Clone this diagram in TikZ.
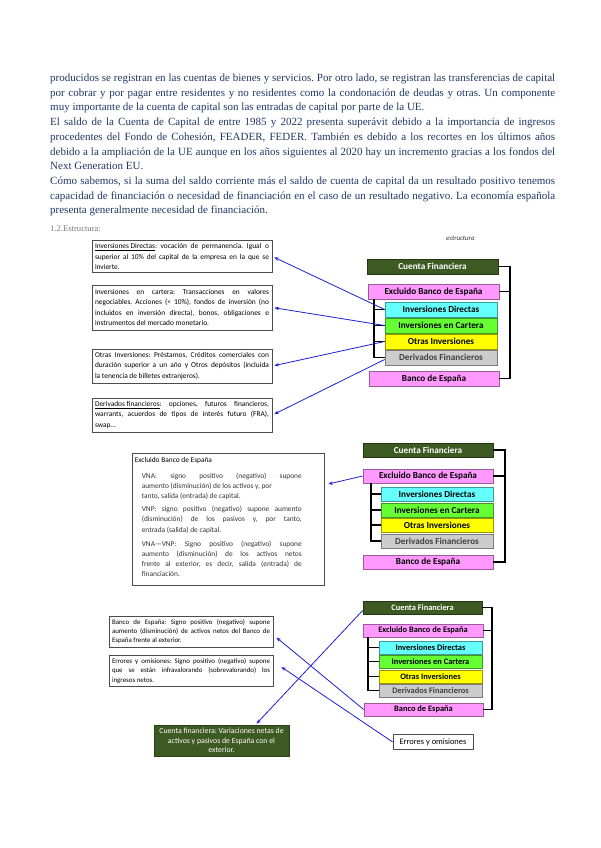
\documentclass[tikz,border=0pt]{standalone}
\usepackage{fontspec}
\setmainfont{Liberation Serif}
\newfontfamily\calfont{Carlito}
\usetikzlibrary{shadows,arrows.meta,calc}
\definecolor{navy}{RGB}{32,56,100}
\definecolor{headgray}{RGB}{120,120,120}
\definecolor{cfgreen}{RGB}{62,90,35}
\definecolor{pinkb}{RGB}{255,153,255}
\definecolor{cyanb}{RGB}{102,255,255}
\definecolor{greenb}{RGB}{102,255,51}
\definecolor{yellowb}{RGB}{255,255,0}
\definecolor{grayb}{RGB}{204,204,204}
\definecolor{lineblue}{RGB}{30,30,215}
\newcommand\jl[2]{\makebox[#1pt][s]{#2}}
\frenchspacing
\tikzset{
 pline/.style={anchor=base west, inner sep=0pt, text=navy, font=\frenchspacing\fontsize{11}{12}\selectfont},
 lbox/.style={draw=black!70, line width=0.9pt, fill=white, inner sep=3pt, align=left, text=black,
   font=\frenchspacing\calfont\fontsize{7.4}{10.3}\selectfont,
   general shadow={fill=black!30, shadow xshift=0.8pt, shadow yshift=-0.8pt}},
 rbox/.style={line width=0.7pt, inner sep=0pt, font=\calfont\bfseries\fontsize{9.2}{10}\selectfont,
   general shadow={fill=black!50, shadow xshift=1.3pt, shadow yshift=-1.3pt}},
 brk/.style={draw=black, line width=1.1pt},
 blink/.style={draw=lineblue, line width=0.8pt},
 barrow/.style={blink, {Stealth[length=4.5pt,width=3.5pt]}-},
}
\newcommand\rbx[8][black]{%
 \node[rbox, fill=#7, draw=#7!60!black, text=#1, minimum width={#5-#3}, minimum height={#6-#4}] (#2) at ({(#3+#5)/2},{(#4+#6)/2}) {#8};}
\begin{document}
\begin{tikzpicture}[x=1pt,y=-1pt]
\useasboundingbox[fill=white] (0,0) rectangle (600,848);
% ---------- body text
\node[pline] (t1) at (50,81.5) {\jl{505}{producidos se registran en las cuentas de bienes y servicios. Por otro lado, se registran las transferencias de capital}};
\node[pline] (t2) at (50,96.2) {\jl{505}{por cobrar y por pagar entre residentes y no residentes como la condonación de deudas y otras. Un componente}};
\node[pline] (t3) at (50,110.9) {muy importante de la cuenta de capital son las entradas de capital por parte de la UE.};
\node[pline] (t4) at (50,125.6) {\jl{505}{El saldo de la Cuenta de Capital de entre 1985 y 2022 presenta superávit debido a la importancia de ingresos}};
\node[pline] (t5) at (50,140.3) {\jl{505}{procedentes del Fondo de Cohesión, FEADER, FEDER. También es debido a los recortes en los últimos años}};
\node[pline] (t6) at (50,155) {\jl{505}{debido a la ampliación de la UE aunque en los años siguientes al 2020 hay un incremento gracias a los fondos del}};
\node[pline] (t7) at (50,169.7) {Next Generation EU.};
\node[pline] (t8) at (50,184.4) {\jl{505}{Cómo sabemos, si la suma del saldo corriente más el saldo de cuenta de capital da un resultado positivo tenemos}};
\node[pline] (t9) at (50,199.1) {\jl{505}{capacidad de financiación o necesidad de financiación en el caso de un resultado negativo. La economía española}};
\node[pline] (t10) at (50,213.8) {presenta generalmente necesidad de financiación.};
\node[anchor=base west, inner sep=0pt, text=headgray, font=\fontsize{8.6}{9}\selectfont] (h) at (50,231.8) {1.2.Estructura:};
% ---------- diagram 1
\node[anchor=base west, inner sep=0pt, font=\calfont\itshape\fontsize{6.8}{7}\selectfont, text=black!80] (est) at (446,240) {estructura};
\rbx[white]{cf1}{367}{259}{498}{274}{cfgreen}{Cuenta Financiera}
\rbx{ex1}{368}{284}{499}{299}{pinkb}{Excluido Banco de España}
\rbx{id1}{385}{302}{497}{317}{cyanb}{Inversiones Directas}
\rbx{ic1}{385}{318}{497}{333}{greenb}{Inversiones en Cartera}
\rbx{oi1}{385}{334}{497}{349}{yellowb}{Otras Inversiones}
\rbx[black!75]{df1}{385}{350}{497}{365}{grayb}{Derivados Financieros}
\rbx{be1}{369}{371}{499}{386}{pinkb}{Banco de España}
\coordinate (r1) at (510,266);
\coordinate (l1) at (374,300);
\draw[brk] (cf1.east) -- (cf1.east -| r1) -- (be1.east -| r1) -- (be1.east);
\draw[brk] (ex1.east) -- (ex1.east -| r1);
\draw[brk] (ex1.south -| l1) -- (df1.west -| l1) -- (df1.west);
\foreach \n in {id1,ic1,oi1} \draw[brk] (\n.west -| l1) -- (\n.west);
\node[lbox, minimum width=180pt, minimum height=31pt] (b1) at (182,256.5) {\jl{174}{\underline{Inversiones Directas}: vocación de permanencia. Igual o}\\\jl{174}{superior al 10\% del capital de la empresa en la que se}\\invierte.};
\node[lbox, minimum width=180pt, minimum height=45pt] (b2) at (182,307.5) {\jl{174}{Inversiones en cartera: Transacciones en valores}\\\jl{174}{negociables. Acciones (< 10\%), fondos de inversión (no}\\\jl{174}{incluidos en inversión directa), bonos, obligaciones e}\\instrumentos del mercado monetario.};
\node[lbox, minimum width=180pt, minimum height=34pt] (b3) at (182,366) {\jl{174}{Otras Inversiones: Préstamos, Créditos comerciales con}\\\jl{174}{duración superior a un año y Otros depósitos (incluida}\\la tenencia de billetes extranjeros).};
\node[lbox, minimum width=180pt, minimum height=34pt] (b4) at (182,415) {\jl{174}{\underline{Derivados financieros}: opciones, futuros financieros,}\\\jl{174}{warrants, acuerdos de tipos de interés futuro (FRA),}\\swap...};
\draw[barrow, shorten <=2pt] (b1.east) -- (id1.west);
\draw[barrow, shorten <=2pt] (b2.east) -- (ic1.west);
\draw[barrow, shorten <=2pt] (b3.east) -- (oi1.west);
\draw[barrow, shorten <=2pt] (b4.east) -- ($(df1.west)+(0,2)$);
% ---------- diagram 2
\rbx[white]{cf2}{363}{443}{493}{457}{cfgreen}{Cuenta Financiera}
\rbx{ex2}{363}{469}{493}{483}{pinkb}{Excluido Banco de España}
\rbx{id2}{381}{487}{493}{501}{cyanb}{Inversiones Directas}
\rbx{ic2}{381}{503}{493}{517}{greenb}{Inversiones en Cartera}
\rbx{oi2}{381}{518}{493}{532}{yellowb}{Otras Inversiones}
\rbx[black!75]{df2}{381}{534}{493}{548}{grayb}{Derivados Financieros}
\rbx{be2}{363}{555}{493}{569}{pinkb}{Banco de España}
\coordinate (r2) at (505,450);
\coordinate (l2) at (371,485);
\draw[brk] (cf2.east) -- (cf2.east -| r2) -- (be2.east -| r2) -- (be2.east);
\draw[brk] (ex2.east) -- (ex2.east -| r2);
\draw[brk] (ex2.south -| l2) -- (df2.west -| l2) -- (df2.west);
\foreach \n in {id2,ic2,oi2} \draw[brk] (\n.west -| l2) -- (\n.west);
\node[draw=black!70, line width=0.8pt, fill=white, inner sep=0pt, minimum width=192pt, minimum height=132pt,
  general shadow={fill=black!25, shadow xshift=0.8pt, shadow yshift=-0.8pt}] (b5) at (228,519) {};
\node[anchor=north west, inner sep=0pt, align=left, text=black!80, font=\frenchspacing\calfont\fontsize{7.4}{10.2}\selectfont] (b5t) at ($(b5.north west)+(3,5)$)
 {\textcolor{black}{Excluido Banco de España}\\[5pt]
  \hspace*{7pt}\jl{160}{VNA: signo positivo (negativo) supone}\\
  \hspace*{7pt}aumento (disminución) de los activos y, por\\
  \hspace*{7pt}tanto, salida (entrada) de capital.\\[3pt]
  \hspace*{7pt}\jl{160}{VNP: signo positivo (negativo) supone aumento}\\
  \hspace*{7pt}\jl{160}{(disminución) de los pasivos y, por tanto,}\\
  \hspace*{7pt}entrada (salida) de capital.\\[4pt]
  \hspace*{7pt}\jl{160}{VNA—VNP: Signo positivo (negativo) supone}\\
  \hspace*{7pt}\jl{160}{aumento (disminución) de los activos netos}\\
  \hspace*{7pt}\jl{160}{frente al exterior, es decir, salida (entrada) de}\\
  \hspace*{7pt}financiación.};
\draw[barrow] ($(b5.east)+(4,-35)$) -- (ex2.west);
% ---------- diagram 3
\begin{scope}[rbox/.append style={font=\calfont\bfseries\fontsize{8.4}{9}\selectfont}]
\rbx[white]{cf3}{363}{601}{482}{614}{cfgreen}{Cuenta Financiera}
\rbx{ex3}{363}{624}{483}{637}{pinkb}{Excluido Banco de España}
\rbx{id3}{379}{641}{482}{654}{cyanb}{Inversiones Directas}
\rbx{ic3}{379}{655}{482}{668}{greenb}{Inversiones en Cartera}
\rbx{oi3}{379}{670}{482}{683}{yellowb}{Otras Inversiones}
\rbx[black!75]{df3}{379}{684}{482}{697}{grayb}{Derivados Financieros}
\rbx{be3}{364}{703}{483}{716}{pinkb}{Banco de España}
\end{scope}
\coordinate (r3) at (492,608);
\coordinate (l3) at (368,640);
\draw[brk] (cf3.east) -- (cf3.east -| r3) -- (be3.east -| r3) -- (be3.east);
\draw[brk] (ex3.east) -- (ex3.east -| r3);
\draw[brk] (ex3.south -| l3) -- (df3.west -| l3) -- (df3.west);
\foreach \n in {id3,ic3,oi3} \draw[brk] (\n.west -| l3) -- (\n.west);
\node[draw=black!70, line width=0.7pt, fill=white, minimum width=80pt, minimum height=15pt, inner sep=0pt,
  font=\calfont\fontsize{8.4}{9}\selectfont, general shadow={fill=black!25, shadow xshift=0.8pt, shadow yshift=-0.8pt}] (eo) at (433,742) {Errores y omisiones};
\node[lbox, minimum width=164pt, minimum height=29pt, font=\frenchspacing\calfont\fontsize{6.9}{9.4}\selectfont] (b6) at (191,631.5)
 {\jl{158}{Banco de España: Signo positivo (negativo) supone}\\\jl{158}{aumento (disminución) de activos netos del Banco de}\\España frente al exterior.};
\node[lbox, minimum width=164pt, minimum height=28pt, font=\frenchspacing\calfont\fontsize{6.9}{9.4}\selectfont] (b7) at (191,671)
 {\jl{158}{Errores y omisiones: Signo positivo (negativo) supone}\\\jl{158}{que se están infravalorando (sobrevalorando) los}\\ingresos netos.};
\node[draw=cfgreen!70!black, fill=cfgreen, text=white, line width=0.7pt, minimum width=135pt, minimum height=31pt, inner sep=0pt,
  align=center, font=\calfont\fontsize{7.8}{9.3}\selectfont, general shadow={fill=black!35, shadow xshift=1pt, shadow yshift=-1pt}] (gb) at (221.5,740.5)
 {Cuenta financiera: Variaciones netas de\\activos y pasivos de España con el\\exterior.};
\draw[barrow] ($(gb.north)+(35,-1)$) -- ($(cf3.west)+(0,3)$);
\draw[barrow] ($(b6.east)+(3,6)$) -- (be3.west);
\draw[barrow] ($(b7.east)+(8,-4)$) -- (eo.west);
\end{tikzpicture}
\end{document}
